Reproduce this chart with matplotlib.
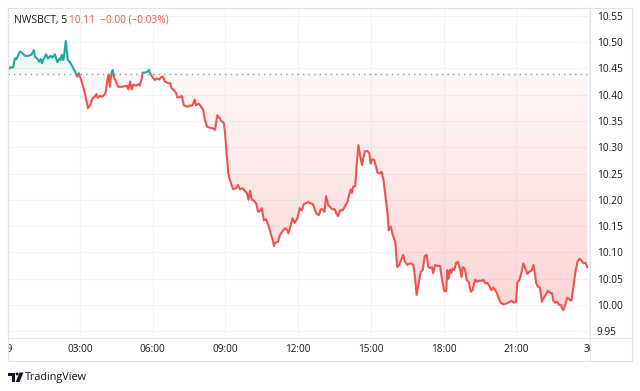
import numpy as np
import matplotlib
matplotlib.use("Agg")
import matplotlib.pyplot as plt
from matplotlib.colors import to_rgb
from matplotlib.lines import Line2D
from matplotlib.patches import Circle, Polygon, Rectangle
from matplotlib.transforms import Affine2D

# 5-minute NWSBCT session, minutes after midnight (day 29) and price
minutes = [
    2, 7, 15, 19, 23, 31, 38, 44, 52, 60, 66, 69, 74, 79, 83, 86, 89, 96, 101, 107,
    112, 118, 124, 129, 132, 135, 139, 142, 145, 150, 155, 162, 168, 173, 177, 182, 188, 193, 200, 205,
    211, 216, 221, 224, 229, 234, 241, 244, 248, 251, 254, 258, 261, 264, 269, 275, 283, 296, 300, 304,
    308, 312, 319, 324, 328, 333, 335, 341, 347, 351, 353, 360, 366, 370, 376, 382, 386, 390, 398, 403,
    407, 413, 418, 421, 426, 432, 437, 446, 452, 459, 464, 467, 474, 479, 485, 489, 495, 502, 509, 514,
    520, 526, 531, 536, 539, 543, 547, 551, 559, 566, 571, 576, 583, 588, 593, 597, 601, 605, 611, 616,
    621, 627, 630, 635, 640, 646, 652, 657, 660, 663, 670, 675, 682, 688, 693, 696, 701, 706, 711, 718,
    724, 729, 734, 741, 745, 751, 756, 762, 766, 771, 776, 781, 785, 789, 794, 799, 804, 810, 815, 819,
    823, 830, 836, 842, 846, 850, 853, 856, 861, 865, 869, 873, 878, 881, 885, 891, 896, 899, 903, 908,
    913, 916, 921, 926, 931, 936, 941, 944, 949, 954, 960, 965, 970, 976, 980, 984, 990, 995, 1001, 1005,
    1009, 1013, 1018, 1023, 1028, 1033, 1038, 1042, 1046, 1051, 1054, 1059, 1064, 1071, 1076, 1081, 1086, 1089, 1092, 1096,
    1099, 1102, 1106, 1111, 1115, 1120, 1124, 1127, 1132, 1137, 1142, 1147, 1152, 1155, 1158, 1162, 1168, 1175, 1178, 1183,
    1188, 1193, 1198, 1203, 1210, 1215, 1221, 1228, 1236, 1242, 1248, 1254, 1259, 1262, 1267, 1273, 1277, 1282, 1287, 1292,
    1298, 1302, 1305, 1309, 1314, 1318, 1323, 1328, 1333, 1338, 1343, 1348, 1351, 1356, 1361, 1365, 1370, 1373, 1376, 1381,
    1386, 1391, 1396, 1401, 1406, 1411, 1416, 1421, 1426, 1431, 1435,
]
prices = [
    10.447, 10.452, 10.452, 10.469, 10.468, 10.482, 10.479, 10.474, 10.474, 10.476,
    10.485, 10.472, 10.469, 10.463, 10.468, 10.460, 10.466, 10.477, 10.469, 10.474,
    10.471, 10.477, 10.462, 10.469, 10.466, 10.476, 10.466, 10.482, 10.502, 10.466,
    10.462, 10.453, 10.444, 10.434, 10.441, 10.430, 10.415, 10.400, 10.374, 10.380,
    10.393, 10.396, 10.401, 10.394, 10.398, 10.396, 10.400, 10.406, 10.428, 10.438,
    10.415, 10.441, 10.447, 10.434, 10.425, 10.415, 10.415, 10.417, 10.410, 10.425,
    10.410, 10.419, 10.417, 10.420, 10.417, 10.431, 10.442, 10.442, 10.444, 10.447,
    10.441, 10.433, 10.428, 10.431, 10.429, 10.434, 10.434, 10.425, 10.422, 10.422,
    10.412, 10.408, 10.403, 10.395, 10.395, 10.398, 10.380, 10.377, 10.379, 10.380,
    10.391, 10.380, 10.383, 10.378, 10.371, 10.352, 10.339, 10.337, 10.336, 10.333,
    10.361, 10.355, 10.349, 10.346, 10.327, 10.288, 10.250, 10.238, 10.220, 10.222,
    10.228, 10.220, 10.222, 10.217, 10.213, 10.200, 10.217, 10.200, 10.198, 10.193,
    10.177, 10.180, 10.184, 10.161, 10.163, 10.152, 10.136, 10.123, 10.112, 10.118,
    10.120, 10.133, 10.141, 10.146, 10.142, 10.136, 10.150, 10.165, 10.156, 10.165,
    10.184, 10.180, 10.192, 10.194, 10.196, 10.193, 10.192, 10.180, 10.173, 10.171,
    10.182, 10.182, 10.177, 10.207, 10.190, 10.186, 10.182, 10.182, 10.173, 10.169,
    10.180, 10.180, 10.188, 10.196, 10.209, 10.220, 10.213, 10.225, 10.226, 10.269,
    10.304, 10.285, 10.266, 10.279, 10.292, 10.293, 10.288, 10.269, 10.277, 10.276,
    10.262, 10.252, 10.250, 10.253, 10.238, 10.206, 10.174, 10.142, 10.149, 10.133,
    10.120, 10.072, 10.076, 10.088, 10.095, 10.082, 10.076, 10.079, 10.078, 10.076,
    10.053, 10.019, 10.041, 10.063, 10.066, 10.093, 10.095, 10.072, 10.070, 10.072,
    10.060, 10.076, 10.074, 10.074, 10.047, 10.027, 10.026, 10.066, 10.050, 10.067,
    10.061, 10.069, 10.066, 10.080, 10.082, 10.069, 10.053, 10.072, 10.069, 10.047,
    10.044, 10.025, 10.029, 10.041, 10.048, 10.044, 10.046, 10.046, 10.048, 10.041,
    10.042, 10.036, 10.028, 10.033, 10.025, 10.015, 10.004, 10.001, 10.003, 10.005,
    10.008, 10.004, 10.006, 10.042, 10.047, 10.063, 10.079, 10.069, 10.059, 10.063,
    10.066, 10.076, 10.063, 10.041, 10.034, 10.033, 10.006, 10.014, 10.020, 10.027,
    10.023, 10.022, 10.008, 10.004, 10.006, 10.000, 10.000, 9.993, 9.990, 10.001,
    10.014, 10.010, 10.008, 10.034, 10.063, 10.082, 10.088, 10.084, 10.079, 10.080,
    10.072,
]
base_price = 10.44

price_ticks = [9.95, 10.00, 10.05, 10.10, 10.15, 10.20, 10.25, 10.30, 10.35, 10.40, 10.45, 10.50, 10.55]
time_ticks = [0, 180, 360, 540, 720, 900, 1080, 1260, 1440]
time_labels = ["29", "03:00", "06:00", "09:00", "12:00", "15:00", "18:00", "21:00", "30"]

symbol = "NWSBCT, 5"
quote = "10.11  \u22120.00 (\u22120.03%)"

UP = "#26a69a"
DOWN = "#ef5350"
TEXT = "#131722"
BORDER = "#e0e3eb"
GRID = "#f0f3fa"

plt.rcParams["font.family"] = ["Open Sans", "DejaVu Sans"]

W, H = 640, 391
fig = plt.figure(figsize=(W / 100, H / 100), dpi=100)
fig.patch.set_facecolor("white")
pix = Affine2D().scale(1 / W, -1 / H).translate(0, 1) + fig.transFigure


def box(x0, y0, x1, y1):
    # pixel box (top-left origin) -> figure fraction rect
    return [x0 / W, 1 - y1 / H, (x1 - x0) / W, (y1 - y0) / H]


ax = fig.add_axes(box(8, 8, 590, 338))
x0, x1 = 2, 1442
y0, y1 = 9.937, 10.565

t = np.array(minutes, dtype=float)
p = np.array(prices)


def gradient_area(edge, color, lo, hi, a_lo, a_hi):
    rgba = np.zeros((256, 1, 4))
    rgba[..., :3] = to_rgb(color)
    rgba[..., 3] = np.linspace(a_lo, a_hi, 256)[:, None]
    im = ax.imshow(rgba, extent=[x0, x1, lo, hi], origin="lower",
                   aspect="auto", interpolation="bilinear", zorder=1)
    verts = [(t[0], base_price)] + list(zip(t, edge)) + [(t[-1], base_price)]
    clip = Polygon(verts, closed=True, fc="none", ec="none")
    ax.add_patch(clip)
    im.set_clip_path(clip)


gradient_area(np.minimum(p, base_price), DOWN, y0, base_price, 0.26, 0.05)
gradient_area(np.maximum(p, base_price), UP, base_price, y1, 0.05, 0.26)

up_line, = ax.plot(t, p, color=UP, lw=1.5, zorder=3, solid_joinstyle="round")
up_line.set_clip_path(Rectangle((x0, base_price), x1 - x0, y1 - base_price, transform=ax.transData))
dn_line, = ax.plot(t, p, color=DOWN, lw=1.5, zorder=3, solid_joinstyle="round")
dn_line.set_clip_path(Rectangle((x0, y0), x1 - x0, base_price - y0, transform=ax.transData))

ax.axhline(base_price, color="#9598a1", lw=1.0, ls=(0, (1, 3)), zorder=2)

ax.set_xlim(x0, x1)
ax.set_ylim(y0, y1)
ax.set_xticks(time_ticks[1:])
ax.set_yticks(price_ticks)
ax.yaxis.tick_right()
ax.yaxis.set_major_formatter(matplotlib.ticker.FormatStrFormatter("%.2f"))
ax.tick_params(axis="x", length=0, labelbottom=False)
ax.tick_params(axis="y", length=0, pad=5, labelsize=7.3, labelcolor=TEXT)
ax.grid(True, color=GRID, lw=0.8, zorder=0)
ax.set_axisbelow(True)
for s in ax.spines.values():
    s.set_color(BORDER)
    s.set_linewidth(0.8)

# time scale below the pane, labels clipped at its edges
tax = fig.add_axes(box(8, 338, 590, 361))
tax.set_xlim(x0, x1)
tax.set_ylim(0, 1)
tax.axis("off")
for m, lab in zip(time_ticks, time_labels):
    tax.text(m, 0.5, lab, ha="center", va="center", fontsize=7.2, color=TEXT, clip_on=True)

# outer frame of the widget
fig.add_artist(Rectangle((8, 8), 624, 353, transform=pix, fill=False, ec=BORDER, lw=0.8))
fig.add_artist(Line2D([590, 590], [338, 361], transform=pix, color=BORDER, lw=0.8))
fig.add_artist(Line2D([590, 632], [338, 338], transform=pix, color=BORDER, lw=0.8))

# legend line at top left
fig.text(14 / W, 1 - 20 / H, symbol, fontsize=7.5, color=TEXT, va="center")
fig.text(69 / W, 1 - 20 / H, quote, fontsize=7.3, color=DOWN, va="center")

# TradingView mark
logo = "#131722"
fig.add_artist(Polygon([(8, 372.5), (15, 372.5), (15, 382), (11.8, 382), (11.8, 375.5), (8, 375.5)],
                       closed=True, transform=pix, fc=logo, ec="none"))
fig.add_artist(Circle((17.2, 374), 1.5, transform=pix, fc=logo, ec="none"))
fig.add_artist(Polygon([(19.5, 372.5), (23.5, 372.5), (19.5, 382), (15.8, 382)],
                       closed=True, transform=pix, fc=logo, ec="none"))
fig.text(25 / W, 1 - 377.5 / H, "TradingView", fontsize=7.8, color=TEXT, va="center")

fig.savefig("out.png", dpi=100, facecolor="white")
